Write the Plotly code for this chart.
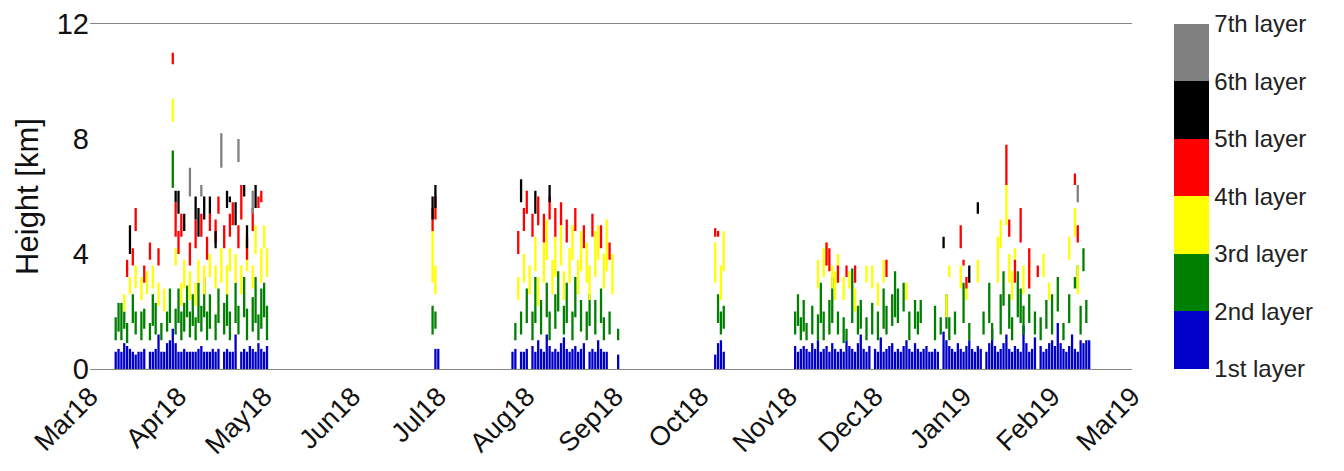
import pandas as pd
import plotly.graph_objects as go

# day offsets counted from 1 Mar 2018
start = pd.Timestamp("2018-03-01")

blue_days = [9, 10, 11, 12, 13, 14, 15, 16, 17, 18, 19, 21, 22, 23, 24, 25, 26, 27, 28, 29, 30, 31, 32, 33, 34,
             35, 36, 37, 38, 39, 40, 41, 42, 43, 44, 45, 47, 48, 49, 50, 51, 53, 54, 55, 56, 57, 58, 59, 60, 61, 62,
             121, 122,
             148, 149, 151, 152, 153, 155, 156, 157, 158, 159, 160, 161, 162, 163, 164, 165, 166, 167, 168, 169, 170,
             171, 172, 173, 175, 176, 177, 178, 179, 180, 181, 185,
             219, 220, 221, 222,
             247, 248, 249, 250, 251, 252, 253, 254, 255, 256, 257, 258, 259, 260, 261, 262, 263, 264, 265, 266, 267,
             268, 269, 270, 271, 272, 273, 275, 276, 277, 278, 279, 280, 281, 282, 283, 284, 285, 286, 287, 288, 289,
             290, 291, 292, 293, 294, 295, 296, 297, 299, 300, 301, 302, 303, 304, 305, 306, 307, 308, 309, 310, 311,
             312, 314, 315, 316, 317, 318, 319, 320, 321, 322, 323, 324, 325, 326, 327, 328, 329, 330, 331, 333, 334,
             335, 336, 337, 338, 339, 340, 341, 342, 343, 344, 345, 346, 347, 348, 349, 350]
blue_tops = [0.6, 0.7, 0.6, 0.9, 0.8, 0.7, 0.6, 0.5, 0.6, 0.6, 0.7, 0.6, 0.6, 0.7, 1.2, 0.6, 0.6, 0.9, 1.0, 1.4, 0.9, 0.6, 0.6, 0.7, 0.6,
             0.6, 0.6, 0.6, 0.7, 0.8, 0.6, 0.6, 0.6, 0.7, 0.6, 0.7, 0.6, 0.7, 0.6, 0.6, 1.2, 0.6, 0.7, 0.6, 0.8, 0.7, 0.6, 0.9, 0.7, 0.6, 0.8,
             0.7, 0.7,
             0.6, 0.7, 0.6, 0.6, 0.7, 0.8, 0.6, 1.0, 0.7, 0.6, 1.2, 0.8, 0.6, 0.7, 0.6, 0.9, 1.1, 0.7, 0.6, 0.7, 0.8,
             0.6, 0.7, 0.9, 0.6, 0.7, 0.6, 1.0, 0.7, 0.6, 0.6, 0.5,
             0.5, 0.9, 1.0, 0.6,
             0.8, 0.6, 0.7, 0.8, 0.7, 0.6, 0.9, 0.7, 1.0, 0.6, 0.7, 0.8, 0.6, 0.9, 0.7, 0.6, 0.7, 0.6, 1.0, 0.8, 0.7,
             0.6, 0.9, 1.2, 0.7, 0.6, 0.8, 0.7, 0.6, 1.1, 0.6, 0.7, 0.8, 0.9, 0.6, 0.7, 0.6, 0.8, 1.0, 0.7, 0.6, 0.9,
             0.7, 0.6, 0.7, 0.8, 0.6, 0.6, 0.7, 0.6, 1.3, 1.0, 0.8, 0.7, 0.6, 0.9, 0.7, 0.6, 0.8, 1.0, 0.7, 0.6, 0.8,
             0.7, 0.6, 0.9, 1.4, 0.8, 0.6, 0.7, 0.9, 1.2, 0.7, 0.6, 0.8, 0.7, 0.6, 1.5, 0.9, 0.6, 0.7, 1.1, 0.8, 0.6,
             0.7, 0.9, 1.0, 0.8, 1.6, 0.9, 0.7, 0.6, 0.8, 1.2, 0.7, 0.6, 1.0, 0.9, 1.0, 1.0]

green_segs = [(9, 1.0, 1.8), (10, 1.3, 2.3), (11, 1.0, 2.3), (12, 1.4, 2.0), (13, 0.9, 1.6), (15, 1.6, 2.6), (16, 1.2, 2.0),
              (18, 1.0, 2.0), (19, 1.4, 2.1), (21, 1.0, 1.6), (22, 1.5, 2.6), (23, 1.2, 2.3), (25, 1.0, 1.6),
              (27, 1.3, 2.0), (28, 1.6, 2.8), (29, 6.3, 7.6), (30, 1.2, 2.1), (31, 1.6, 2.8), (32, 1.0, 2.0),
              (33, 1.3, 2.3), (34, 1.8, 2.9), (35, 1.1, 2.0), (36, 1.5, 2.6), (37, 1.0, 1.8), (38, 1.6, 3.0),
              (39, 1.3, 2.2), (40, 1.8, 3.2), (41, 1.0, 2.0), (42, 1.4, 2.6), (44, 1.0, 1.9), (45, 1.6, 2.8),
              (47, 1.2, 2.3), (48, 1.5, 2.6), (49, 1.0, 2.0), (51, 1.6, 3.0), (52, 1.2, 2.2), (54, 1.8, 3.2),
              (55, 1.0, 2.1), (57, 1.3, 2.5), (58, 1.6, 3.2), (59, 1.0, 1.9), (60, 1.4, 2.8), (61, 1.8, 3.0),
              (62, 1.0, 2.2),
              (120, 1.2, 2.2), (121, 1.4, 2.0),
              (149, 1.0, 1.6), (151, 1.2, 2.0), (153, 1.6, 2.8), (155, 1.0, 2.0), (156, 1.6, 3.2), (158, 1.2, 2.4),
              (160, 1.8, 3.0), (161, 1.0, 2.0), (163, 1.4, 2.6), (164, 2.0, 3.4), (166, 1.2, 2.2), (167, 1.6, 3.0),
              (169, 1.0, 2.0), (170, 1.8, 3.2), (172, 1.3, 2.4), (174, 1.0, 2.0), (175, 1.5, 2.6), (177, 1.2, 2.4),
              (179, 1.6, 2.8), (180, 1.0, 1.8), (182, 1.2, 2.0), (185, 1.0, 1.4),
              (220, 1.6, 2.6), (221, 1.2, 2.0), (222, 1.4, 2.2),
              (247, 1.2, 2.0), (248, 1.5, 2.6), (249, 1.0, 1.8), (250, 1.3, 2.4), (251, 1.0, 1.6), (253, 1.2, 2.2),
              (255, 1.0, 1.9), (256, 1.6, 3.0), (257, 1.0, 2.0), (259, 1.2, 2.4), (260, 1.6, 3.2), (262, 1.2, 2.0),
              (264, 0.9, 1.8), (265, 1.0, 1.4), (267, 1.6, 3.5), (269, 1.2, 2.2), (270, 1.4, 2.4), (272, 1.0, 1.8),
              (274, 1.2, 2.3), (276, 1.0, 2.0), (278, 1.4, 2.8), (279, 1.2, 2.2), (281, 1.5, 2.6), (282, 1.8, 3.4),
              (283, 1.6, 2.8), (285, 2.0, 3.0), (287, 1.0, 2.0), (289, 1.4, 2.4), (290, 1.2, 2.0), (291, 1.6, 2.4),
              (296, 1.0, 2.2), (298, 1.2, 1.8), (300, 1.4, 2.6), (301, 1.0, 1.8), (303, 1.2, 2.0), (306, 1.6, 3.0),
              (308, 1.0, 1.6), (313, 1.2, 2.0), (315, 1.6, 3.0), (316, 1.0, 1.6), (319, 1.2, 2.6), (320, 2.2, 3.4),
              (322, 1.4, 2.6), (323, 1.0, 1.8), (325, 1.8, 3.4), (326, 1.6, 2.8), (327, 1.2, 2.2), (329, 1.6, 2.6),
              (331, 1.2, 2.0), (333, 1.0, 1.8), (335, 1.4, 2.4), (337, 1.2, 2.6), (339, 2.0, 3.2), (341, 1.0, 1.6),
              (343, 1.6, 2.6), (345, 2.8, 3.2), (346, 2.8, 3.6), (347, 1.2, 2.2), (348, 3.4, 4.2), (349, 1.6, 2.4)]

yellow_segs = [(12, 2.0, 2.6), (14, 2.6, 3.2), (16, 2.8, 3.6), (18, 2.4, 3.2), (20, 2.6, 3.4), (22, 2.8, 3.6),
               (24, 2.2, 3.0), (26, 2.0, 2.8), (29, 8.6, 9.4), (30, 3.6, 4.2), (32, 2.2, 3.0), (33, 2.8, 3.8),
               (35, 2.4, 3.4), (37, 2.2, 3.0), (38, 3.0, 3.8), (40, 2.6, 3.6), (42, 3.2, 4.0), (44, 2.8, 3.6),
               (46, 3.0, 4.2), (48, 2.6, 3.6), (49, 3.4, 4.2), (51, 3.0, 4.0), (53, 2.6, 3.6), (55, 3.4, 4.6),
               (57, 2.8, 3.6), (58, 4.0, 5.0), (60, 3.0, 4.2), (61, 4.2, 5.0), (62, 3.2, 4.2),
               (120, 3.0, 4.8), (121, 2.6, 3.6),
               (150, 2.4, 3.2), (152, 3.0, 4.0), (154, 2.6, 3.6), (156, 3.4, 4.6), (157, 2.2, 3.2), (159, 3.0, 4.4),
               (160, 3.8, 5.2), (162, 2.6, 3.8), (163, 3.2, 4.6), (165, 3.6, 5.0), (166, 2.4, 3.4), (168, 3.0, 4.2),
               (169, 3.8, 5.0), (171, 2.6, 3.8), (172, 3.4, 4.8), (174, 3.0, 4.4), (175, 2.4, 3.6), (177, 3.2, 4.8),
               (178, 3.8, 5.0), (180, 2.8, 4.0), (181, 3.4, 5.2), (183, 2.6, 4.0),
               (219, 3.0, 4.4), (221, 2.4, 3.6), (222, 3.4, 4.8),
               (255, 2.8, 3.8), (257, 3.2, 4.2), (258, 3.6, 4.4), (260, 2.8, 3.6), (261, 2.4, 3.4), (262, 3.0, 4.0),
               (264, 2.4, 3.2), (266, 2.8, 3.4), (268, 2.0, 2.8), (272, 3.0, 3.6), (274, 2.8, 3.6), (276, 2.2, 3.0),
               (278, 3.0, 3.8), (286, 2.4, 3.0), (300, 1.8, 2.6), (301, 3.2, 3.6), (305, 2.8, 3.6), (307, 2.4, 3.0),
               (311, 3.0, 3.8), (318, 3.0, 4.6), (319, 4.2, 5.2), (321, 5.0, 6.4), (322, 3.0, 4.0), (323, 2.4, 3.4),
               (324, 3.2, 4.2), (327, 2.6, 3.6), (329, 3.0, 3.8), (334, 3.2, 4.0), (336, 2.4, 3.0), (343, 3.8, 4.6),
               (345, 4.6, 5.6), (346, 2.6, 3.6)]

red_segs = [(13, 3.2, 3.8), (15, 3.6, 4.2), (16, 4.8, 5.6), (19, 3.0, 3.6), (21, 3.8, 4.4), (24, 3.6, 4.2),
            (29, 10.6, 11.0), (30, 4.6, 5.8), (31, 4.0, 4.8), (32, 4.6, 5.4), (35, 3.6, 4.4), (37, 4.2, 5.2),
            (39, 4.6, 5.4), (41, 3.8, 4.6), (42, 4.8, 5.4), (44, 4.4, 5.2), (45, 5.4, 6.0), (47, 4.2, 5.0),
            (49, 4.6, 5.4), (50, 5.0, 5.8), (52, 4.2, 5.0), (53, 5.2, 6.4), (55, 3.8, 4.6), (57, 4.8, 5.6),
            (59, 5.6, 6.0), (60, 5.8, 6.2),
            (120, 4.8, 5.6), (121, 5.2, 6.0),
            (150, 4.0, 4.8), (152, 4.8, 5.6), (153, 5.4, 6.2), (155, 4.6, 5.4), (157, 5.0, 6.0), (159, 4.4, 5.4),
            (161, 5.2, 6.0), (163, 4.6, 5.6), (165, 5.0, 5.8), (167, 4.4, 5.2), (170, 4.8, 5.6), (173, 4.2, 5.0),
            (176, 4.6, 5.4), (179, 4.2, 5.0), (182, 3.8, 4.4),
            (219, 4.6, 4.9), (220, 4.6, 4.8),
            (258, 3.6, 4.4), (259, 3.4, 4.2), (262, 3.0, 3.6), (265, 3.2, 3.6), (268, 3.0, 3.6), (279, 3.2, 3.8),
            (305, 4.2, 5.0), (306, 3.6, 3.8), (307, 2.8, 3.2), (321, 6.4, 7.8), (322, 4.6, 5.2), (324, 3.0, 3.8),
            (326, 4.4, 5.6), (329, 2.8, 4.2), (332, 3.2, 3.6), (345, 6.4, 6.8), (346, 4.4, 5.0)]

black_segs = [(14, 4.0, 5.0), (30, 5.8, 6.2), (31, 5.4, 6.2), (33, 4.8, 5.4), (37, 5.2, 6.0), (38, 4.6, 5.6),
              (40, 5.2, 6.0), (42, 5.4, 6.0), (44, 4.2, 4.8), (48, 5.6, 6.2), (49, 5.8, 6.0), (51, 5.0, 5.8),
              (54, 6.0, 6.4), (55, 4.2, 5.0), (58, 5.6, 6.4), (120, 5.2, 6.0), (121, 5.6, 6.4),
              (151, 5.8, 6.6), (156, 5.4, 6.2), (161, 5.8, 6.4), (299, 4.2, 4.6), (308, 3.0, 3.6), (311, 5.4, 5.8)]

gray_segs = [(35, 6.0, 7.0), (39, 6.0, 6.4), (46, 7.0, 8.2), (52, 7.2, 8.0), (57, 5.4, 6.2), (346, 5.8, 6.4)]

layer_names = ["1st layer", "2nd layer", "3rd layer", "4th layer", "5th layer", "6th layer", "7th layer"]
layer_colors = ["#0000c8", "#008000", "#ffff00", "#ff0000", "#000000", "#808080"]


def seg_xy(segs):
    xs, ys = [], []
    for d, b, t in segs:
        x = start + pd.Timedelta(days=d)
        xs += [x, x, None]
        ys += [b, t, None]
    return xs, ys


fig = go.Figure()
blue_segs = [(d, 0, t) for d, t in zip(blue_days, blue_tops)]
for segs, col in zip([blue_segs, green_segs, yellow_segs, red_segs, black_segs, gray_segs], layer_colors):
    xs, ys = seg_xy(segs)
    fig.add_trace(go.Scatter(x=xs, y=ys, mode="lines", line=dict(color=col, width=2.3),
                             showlegend=False, hoverinfo="skip"))

# discrete colour bar
scale = []
for i, c in enumerate(layer_colors):
    scale += [[i / 6, c], [(i + 1) / 6, c]]
fig.add_trace(go.Scatter(
    x=[start, start], y=[-5, -5], mode="markers", showlegend=False, hoverinfo="skip",
    marker=dict(color=[0, 6], cmin=0, cmax=6, colorscale=scale, size=0.1,
                colorbar=dict(tickvals=list(range(7)), ticktext=layer_names, thickness=35,
                              len=1.0, lenmode="fraction", ypad=0, xpad=0,
                              x=1.04, xanchor="left", y=0.5, yanchor="middle", outlinewidth=0,
                              tickfont=dict(size=24, family="Arial, Liberation Sans", color="#222"),
                              ticks=""))))

fig.update_layout(
    width=1344, height=471, plot_bgcolor="white", paper_bgcolor="white",
    margin=dict(l=82, r=220, t=16, b=110, autoexpand=False),
    font=dict(family="Arial, Liberation Sans", color="#111"),
)
fig.update_xaxes(range=[pd.Timestamp("2018-03-01"), pd.Timestamp("2019-03-01")],
                 tickvals=pd.date_range("2018-03-01", "2019-03-01", freq="MS"), tickformat="%b%y",
                 tickangle=-45, tickfont=dict(size=27), showgrid=False, showline=True,
                 linecolor="#888", mirror=True, zeroline=False, automargin=False)
fig.update_yaxes(range=[0, 12], tickvals=[0, 4, 8, 12], tickfont=dict(size=29), showgrid=False,
                 zeroline=False, automargin=False, title=dict(text="Height [km]", font=dict(size=31), standoff=8))

fig.write_html("out.html")
